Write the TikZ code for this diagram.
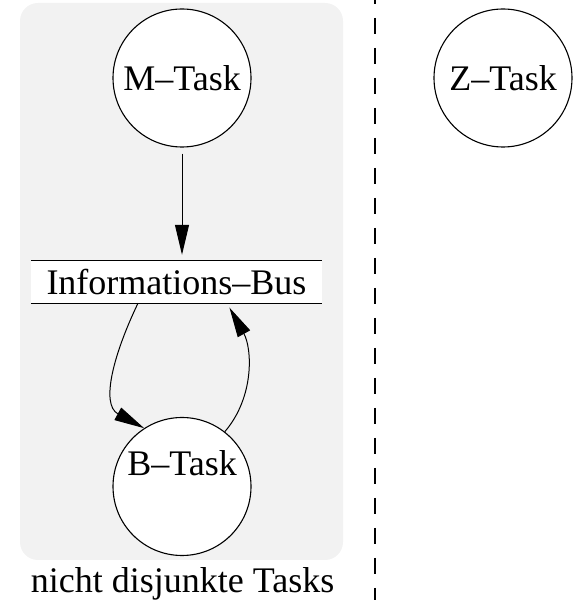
\documentclass[tikz,border=0pt]{standalone}
\usepackage{fontspec}
\setmainfont{Liberation Serif}
\usetikzlibrary{arrows.meta}

\tikzset{
    task/.style={circle,draw,fill=white,line width=1.1pt,minimum size=138pt,inner sep=0pt},
    arr/.style={line width=1pt,-{Triangle[length=30pt,width=14pt]}},
}

\begin{document}
\begin{tikzpicture}[x=1pt,y=1pt,font=\fontsize{36}{40}\selectfont]

    \useasboundingbox (0,0) rectangle (580,600);
    
    \fill[gray!10,rounded corners=18pt](20,40) rectangle (343,597);
    \draw[line width=1.2pt,dash pattern=on 16pt off 14pt,dash phase=12pt](375,600)--(375,0);

	\node[task](M) at (182,522){M--Task};
	\node[task](Z) at (503,522){Z--Task};
	\node[task,text depth=47pt](B) at (182,113.5){B--Task};
	\node[fill=white,minimum width=291pt,minimum height=42pt,inner sep=0pt](bus) at (176.5,318){Informations--Bus};
	\draw[line width=1.1pt](bus.north west)--(bus.north east) (bus.south west)--(bus.south east);
	\node[anchor=base](lbl) at (182.5,8){nicht disjunkte Tasks};

	\draw[arr,shorten <=6pt,shorten >=6pt](M.south)--(M.south|-bus.north);
	\draw[arr]([xshift=-38.5pt]bus.south) .. controls +(-24,-50) and +(-44,24) .. (B.123);
	\draw[arr,shorten >=5pt](B.52) .. controls +(30,35) and +(25,-45) .. ([xshift=50.5pt]bus.south);
\end{tikzpicture}
\end{document}
